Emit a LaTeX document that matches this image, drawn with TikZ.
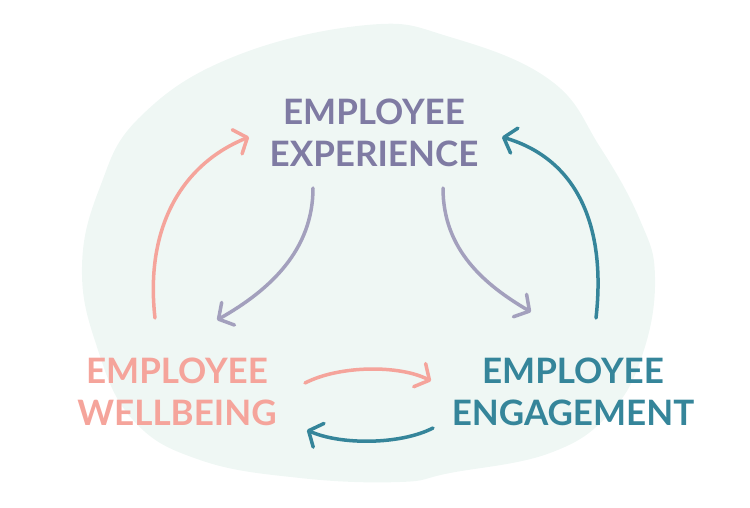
\documentclass[tikz,border=0pt]{standalone}
\usepackage{fontspec}
\setmainfont{Lato}
\usetikzlibrary{arrows.meta}
\definecolor{blobc}{HTML}{EFF7F4}
\definecolor{purpt}{HTML}{7F7BA3}
\definecolor{purpa}{HTML}{A3A0BD}
\definecolor{pinkc}{HTML}{F5A49B}
\definecolor{tealc}{HTML}{35859A}
\tikzset{
  lbl/.style={align=center, inner sep=0pt, font=\bfseries\fontsize{35}{42}\selectfont},
  arr/.style={line width=3.5pt, line cap=round, -{Straight Barb[length=11pt,width=26pt,round]}}
}
\begin{document}
\begin{tikzpicture}[x=1pt,y=-1pt]
\useasboundingbox (0,0) rectangle (750,507);
\fill[blobc] plot[smooth cycle, tension=0.7] coordinates {(367,25) (450,37) (550,80) (600,147) (640,220) (655,277) (643,353) (610,413) (550,453) (450,473) (400,482) (300,478) (200,460) (133,420) (97,347) (82,267) (100,187) (140,117) (233,57)};
\node[lbl, text=purpt] (exp) at (374,133) {EMPLOYEE\\EXPERIENCE};
\node[lbl, text=pinkc] (wel) at (177,392) {EMPLOYEE\\WELLBEING};
\node[lbl, text=tealc] (eng) at (573,392) {EMPLOYEE\\ENGAGEMENT};
\coordinate (a1s) at (155,318); \coordinate (a1e) at (249,137);
\coordinate (a2s) at (313,188); \coordinate (a2e) at (217,320);
\coordinate (a3s) at (443,188); \coordinate (a3e) at (531,312);
\coordinate (a4s) at (596,318); \coordinate (a4e) at (502,137);
\coordinate (a5s) at (305,383); \coordinate (a5e) at (431,381);
\coordinate (a6s) at (433,428); \coordinate (a6e) at (307,430);
\draw[arr, pinkc] (a1s) .. controls (145,230) and (180,165) .. (a1e);
\draw[arr, purpa] (a2s) .. controls (313,250) and (270,290) .. (a2e);
\draw[arr, purpa] (a3s) .. controls (443,250) and (485,285) .. (a3e);
\draw[arr, tealc] (a4s) .. controls (606,230) and (580,160) .. (a4e);
\draw[arr, pinkc] (a5s) .. controls (340,365) and (400,365) .. (a5e);
\draw[arr, tealc] (a6s) .. controls (400,445) and (340,445) .. (a6e);
\end{tikzpicture}
\end{document}
